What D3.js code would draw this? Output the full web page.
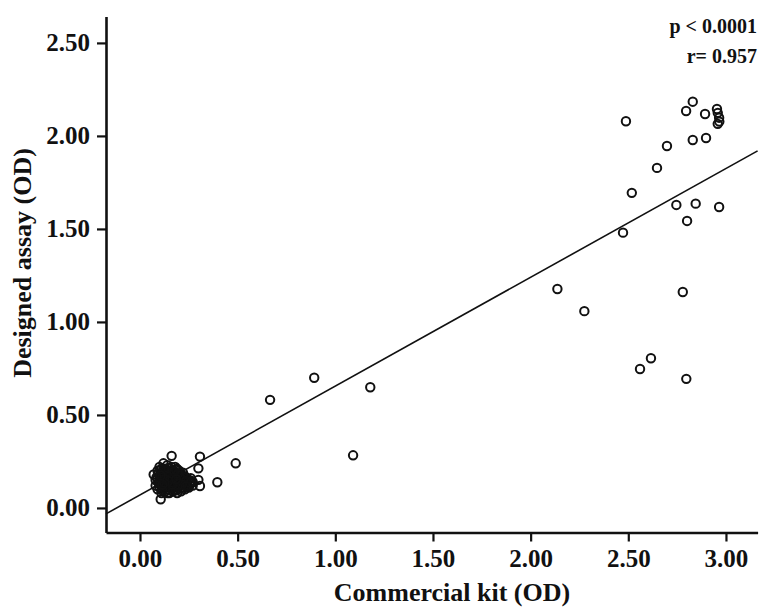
<!DOCTYPE html>
<html>
<head>
<meta charset="utf-8">
<script src="https://cdn.jsdelivr.net/npm/d3@7/dist/d3.min.js"></script>
<style>
  html, body { margin: 0; padding: 0; background: #ffffff; }
  svg { display: block; }
  text { font-family: "Liberation Serif", "Times New Roman", serif; font-weight: bold; fill: #111; }
</style>
</head>
<body>
<svg id="chart" width="774" height="614"></svg>
<script>
// ---- Data ----
const commercialKit = [
  // high-OD group
  2.830, 2.796, 2.893, 2.954, 2.958, 2.965, 2.966, 2.958, 2.488, 2.830,
  2.898, 2.698, 2.647, 2.518, 2.746, 2.845, 2.965, 2.801, 2.473, 2.137,
  2.275, 2.779, 2.616, 2.560, 2.797,
  // middle values
  0.666, 0.892, 1.179, 1.091, 0.490, 0.307, 0.299, 0.299, 0.307, 0.396,
  0.162, 0.106,
  // low-OD cluster
  0.07, 0.08, 0.08, 0.09, 0.09, 0.10, 0.10, 0.10, 0.11, 0.11,
  0.11, 0.12, 0.12, 0.12, 0.12, 0.13, 0.13, 0.13, 0.13, 0.14,
  0.14, 0.14, 0.14, 0.15, 0.15, 0.15, 0.15, 0.16, 0.16, 0.16,
  0.16, 0.17, 0.17, 0.17, 0.17, 0.18, 0.18, 0.18, 0.18, 0.19,
  0.19, 0.19, 0.20, 0.20, 0.20, 0.21, 0.21, 0.21, 0.22, 0.22,
  0.22, 0.23, 0.23, 0.23, 0.24, 0.24, 0.25, 0.25, 0.26, 0.26,
  0.27, 0.27, 0.09, 0.11, 0.12, 0.13, 0.14, 0.15, 0.16, 0.17,
  0.18, 0.19, 0.20, 0.21, 0.12, 0.13, 0.14, 0.15, 0.16, 0.17,
  0.10, 0.11, 0.14, 0.19, 0.24,
  0.105, 0.115, 0.125, 0.125, 0.135, 0.135, 0.145, 0.145, 0.155, 0.155,
  0.165, 0.165, 0.175, 0.175, 0.185, 0.185, 0.195, 0.195, 0.205, 0.205,
  0.215, 0.225, 0.225, 0.235, 0.245, 0.255, 0.265, 0.095, 0.095, 0.105,
  0.115, 0.125, 0.135, 0.145, 0.155, 0.165, 0.175, 0.185, 0.195, 0.215,
  0.235, 0.085, 0.145, 0.165, 0.185, 0.125, 0.115, 0.105
];
const designedAssay = [
  2.184, 2.134, 2.118, 2.145, 2.124, 2.098, 2.077, 2.065, 2.079, 1.978,
  1.989, 1.946, 1.828, 1.694, 1.629, 1.636, 1.618, 1.543, 1.480, 1.177,
  1.058, 1.161, 0.805, 0.747, 0.694,
  0.581, 0.700, 0.649, 0.283, 0.240, 0.276, 0.213, 0.151, 0.118, 0.138,
  0.280, 0.047,
  0.18, 0.15, 0.12, 0.20, 0.10, 0.17, 0.13, 0.22, 0.08, 0.19,
  0.15, 0.11, 0.24, 0.17, 0.13, 0.21, 0.09, 0.16, 0.12, 0.19,
  0.14, 0.23, 0.10, 0.17, 0.12, 0.20, 0.08, 0.15, 0.22, 0.11,
  0.18, 0.13, 0.20, 0.09, 0.16, 0.12, 0.19, 0.15, 0.22, 0.10,
  0.17, 0.14, 0.20, 0.12, 0.16, 0.09, 0.14, 0.18, 0.11, 0.15,
  0.19, 0.13, 0.17, 0.10, 0.14, 0.12, 0.15, 0.11, 0.13, 0.16,
  0.12, 0.14, 0.16, 0.12, 0.20, 0.18, 0.12, 0.14, 0.13, 0.11,
  0.17, 0.21, 0.14, 0.11, 0.15, 0.14, 0.16, 0.16, 0.17, 0.14,
  0.11, 0.21, 0.08, 0.08, 0.16,
  0.145, 0.175, 0.105, 0.185, 0.135, 0.205, 0.165, 0.115, 0.185, 0.135,
  0.105, 0.205, 0.145, 0.175, 0.125, 0.205, 0.155, 0.125, 0.175, 0.105,
  0.155, 0.125, 0.165, 0.145, 0.115, 0.135, 0.145, 0.135, 0.185, 0.205,
  0.095, 0.155, 0.115, 0.215, 0.095, 0.155, 0.195, 0.095, 0.185, 0.125,
  0.115, 0.165, 0.145, 0.125, 0.155, 0.135, 0.125, 0.175
];
const xTicks = [0, 0.5, 1.0, 1.5, 2.0, 2.5, 3.0];
const yTicks = [0, 0.5, 1.0, 1.5, 2.0, 2.5];
const fitSlope = [0.585];
const fitIntercept = [0.07];
const statLabels = ["p < 0.0001", "r= 0.957"];
const axisTitles = ["Commercial kit (OD)", "Designed assay (OD)"];

// ---- Chart ----
const svg = d3.select("#chart");
const xDomain = [-0.174, 3.162];
const yDomain = [-0.132, 2.642];
const x = d3.scaleLinear().domain(xDomain).range([106, 757.6]);
const y = d3.scaleLinear().domain(yDomain).range([532.5, 16.5]);

// regression line
const lineData = xDomain.map(v => [v, fitIntercept[0] + fitSlope[0] * v]);
svg.append("path")
  .attr("d", d3.line().x(d => x(d[0])).y(d => y(d[1]))(lineData))
  .attr("fill", "none").attr("stroke", "#111").attr("stroke-width", 1.6);

// points
const pts = commercialKit.map((v, i) => [v, designedAssay[i]]);
svg.append("g").selectAll("circle").data(pts).join("circle")
  .attr("cx", d => x(d[0])).attr("cy", d => y(d[1])).attr("r", 4.2)
  .attr("fill", "none").attr("stroke", "#111").attr("stroke-width", 2);

// axes
const fmt = d3.format(".2f");
const xAxis = svg.append("g").attr("transform", `translate(0,${y.range()[0]})`)
  .call(d3.axisBottom(x).tickValues(xTicks).tickFormat(fmt).tickSize(9).tickSizeOuter(0).tickPadding(8));
const yAxis = svg.append("g").attr("transform", `translate(${x.range()[0]},0)`)
  .call(d3.axisLeft(y).tickValues(yTicks).tickFormat(fmt).tickSize(9).tickSizeOuter(0).tickPadding(7));
[xAxis, yAxis].forEach(g => {
  g.select(".domain").attr("stroke", "#111").attr("stroke-width", 2.6);
  g.selectAll(".tick line").attr("stroke", "#111").attr("stroke-width", 2.2);
  g.selectAll(".tick text").attr("font-size", 25).attr("font-family", "Liberation Serif, serif")
    .attr("font-weight", "bold").attr("fill", "#111");
});

// axis titles
svg.append("text").attr("x", 452).attr("y", 601).attr("text-anchor", "middle")
  .attr("font-size", 26).text(axisTitles[0]);
svg.append("text").attr("transform", "translate(31,263) rotate(-90)").attr("text-anchor", "middle")
  .attr("font-size", 26).text(axisTitles[1]);

// stats
svg.append("text").attr("x", 757).attr("y", 33).attr("text-anchor", "end")
  .attr("font-size", 20).text(statLabels[0]);
svg.append("text").attr("x", 757).attr("y", 63).attr("text-anchor", "end")
  .attr("font-size", 20).text(statLabels[1]);
</script>
</body>
</html>
